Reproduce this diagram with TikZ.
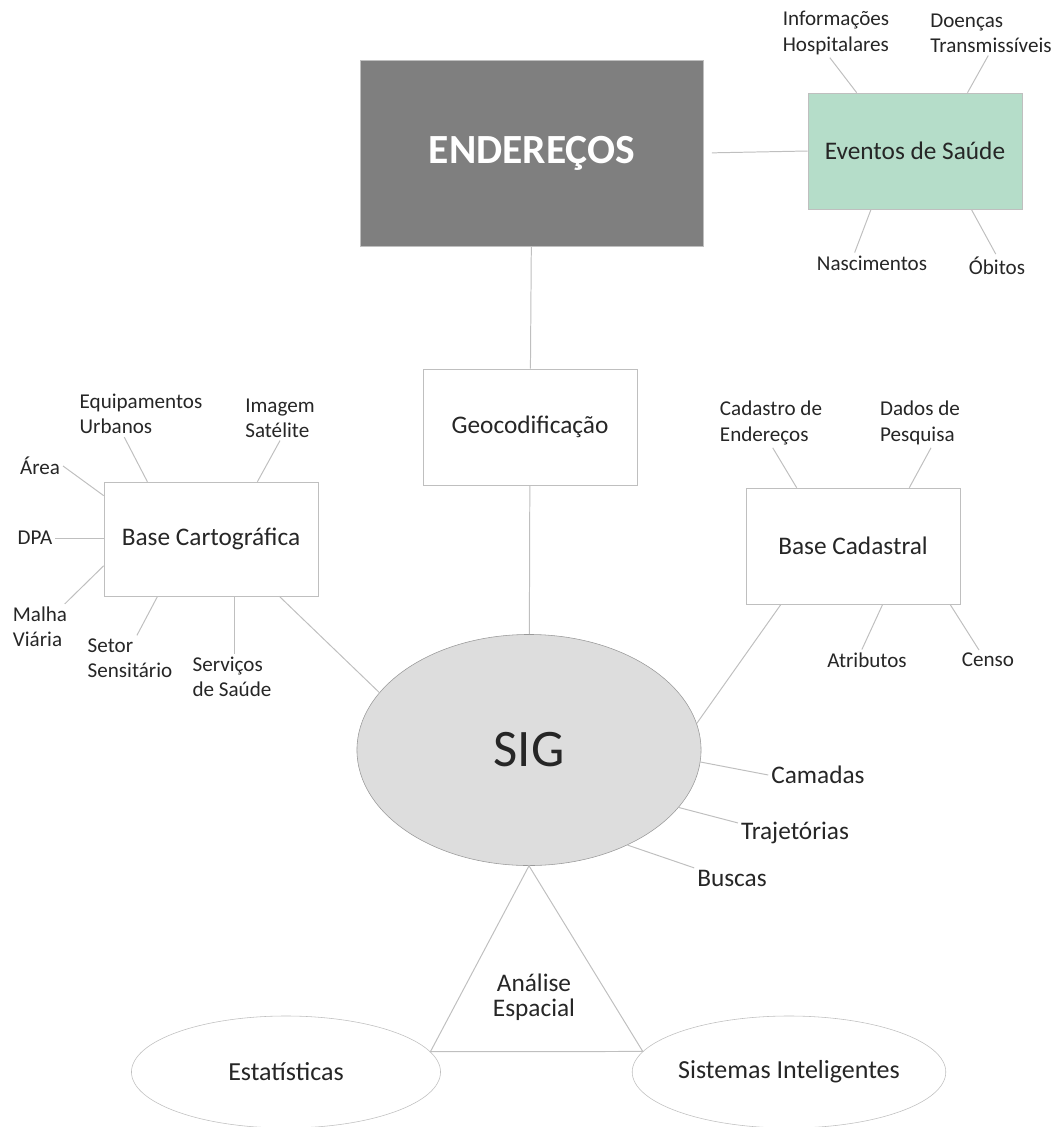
\documentclass[tikz,border=0pt]{standalone}
\usepackage{fontspec}
\setmainfont{Carlito}
\usepackage{xcolor}
\usepackage{tikz}
\usetikzlibrary{shapes,positioning,calc}
\definecolor{lineGray}{RGB}{191,191,191}
\definecolor{headGray}{RGB}{127,127,127}
\definecolor{healthGreen}{RGB}{181,221,201}
\definecolor{sigGray}{RGB}{221,221,221}
\definecolor{textGray}{RGB}{38,38,38}
\tikzset{
  mainBox/.style={
    rectangle,
    draw=lineGray,
    fill=white,
    text=textGray,
    minimum width=5.35cm,
    minimum height=2.9cm,
    align=center,
    font=\fontsize{18}{18}\selectfont
  },
  headBox/.style={
    mainBox,
    fill=headGray,
    text=white,
    minimum width=8.575cm,
    minimum height=4.65cm,
    font=\fontsize{29.5}{29.5}\selectfont\bfseries
  },
  eventBox/.style={
    mainBox,
    fill=healthGreen
  },
  sigEllipse/.style={
    ellipse,
    draw=lineGray!80!black,
    fill=sigGray,
    text=textGray,
    inner sep=0pt,
    minimum width=8.6cm,
    minimum height=5.775cm,
    font=\fontsize{37.5}{37.5}\selectfont
  },
  outerEllipse/.style={
    ellipse,
    draw=lineGray,
    fill=white,
    text=textGray,
    inner sep=0pt,
    minimum width=7.7cm,
    minimum height=2.8cm,
    font=\fontsize{18.5}{18.5}\selectfont
  },
  labelText/.style={
    text=textGray,
    align=left,
    inner sep=2pt,
    font=\fontsize{15}{18}\selectfont
  },
  sigLabel/.style={
    labelText,
    font=\fontsize{18}{18}\selectfont
  },
  linkLine/.style={
    draw=lineGray,
    line width=0.7pt
  }
}
\begin{document}
\begin{tikzpicture}[x=0.025cm, y=-0.025cm]
        \useasboundingbox (0,0) rectangle (1057,1127);

        % main boxes
        \node[headBox] (end) at (532,153) {ENDEREÇOS};
        \node[eventBox] (eventos) at (915,151) {Eventos de Saúde};
        \node[mainBox] (geo) at (530,427) {Geocodificação};
        \node[mainBox, minimum height=2.85cm] (cart) at (211,539) {Base Cartográfica};
        \node[mainBox] (cad) at (853,546) {Base Cadastral};
        \node[sigEllipse] (sig) at (529,750) {SIG};
        \node[outerEllipse, minimum width=7.725cm] (estat) at (286,1072) {Estatísticas};
        \node[outerEllipse] (sist) at (789,1072) {Sistemas Inteligentes};
        \node[sigLabel, align=center] (analise) at (534,997) {Análise\\Espacial};

        % labels
        \node[labelText] (info) at (836,33) {Informações\\Hospitalares};
        \node[labelText] (doencas) at (991,33) {Doenças\\Transmissíveis};
        \node[labelText] (nasc) at (872,263) {Nascimentos};
        \node[labelText] (obitos) at (997,266) {Óbitos};
        \node[labelText] (equip) at (141,414) {Equipamentos\\Urbanos};
        \node[labelText] (imagem) at (280,418) {Imagem\\Satélite};
        \node[labelText] (area) at (40,466) {Área};
        \node[labelText] (dpa) at (35,538) {DPA};
        \node[labelText] (malha) at (40,627) {Malha\\Viária};
        \node[labelText] (setor) at (130,658) {Setor\\Sensitário};
        \node[labelText] (servicos) at (232,677) {Serviços\\de Saúde};
        \node[labelText] (cadastro) at (771,423) {Cadastro de\\Endereços};
        \node[labelText] (dados) at (920,423) {Dados de\\Pesquisa};
        \node[labelText] (atrib) at (867,660) {Atributos};
        \node[labelText] (censo) at (988,660) {Censo};
        \node[sigLabel] (camadas) at (818,775) {Camadas};
        \node[sigLabel] (trajet) at (795,833) {Trajetórias};
        \node[sigLabel] (buscas) at (732,878) {Buscas};

        % connectors
        \draw[linkLine, shorten <=0.2cm] (end.east) -- (eventos.west);
        \draw[linkLine] (end) -- (geo);
        \draw[linkLine] (geo) -- (sig);
        \draw[linkLine] (eventos.135.5) -- (info.-104);
        \draw[linkLine] (eventos.48.7) -- (doencas.-97);
        \draw[linkLine] (eventos.233.4) -- (nasc.149);
        \draw[linkLine] (eventos.-46.5) -- (obitos.96);

        \draw[linkLine] (cart.138) -- (equip.-126);
        \draw[linkLine] (cart.51) -- (imagem.south);
        \draw[linkLine] (cart.158.6) -- (area.east);
        \draw[linkLine] (dpa.east) -- (dpa.east -| cart.west);
        \draw[linkLine] (cart.194.7) -- (malha.43);
        \draw[linkLine] (cart.227.6) -- (setor.73);
        \draw[linkLine] (servicos.83) -- (servicos.83 |- cart.south);
        \draw[linkLine] (cart.320.4) -- (sig.159.6);

        \draw[linkLine] (cad.134) -- (cadastro.-86);
        \draw[linkLine] (cad.46.5) -- (dados.-66);
        \draw[linkLine] (cad.-63.4) -- (atrib.116.6);
        \draw[linkLine] (cad.-31.7) -- (censo.132);
        \draw[linkLine] (cad.219.2) -- (sig.9.1);

        \draw[linkLine] (sig.-4.3) -- (camadas.west);
        \draw[linkLine] (sig.-21.6) -- (trajet.170);
        \draw[linkLine] (sig.-44.4) -- (buscas.165);

        \draw[linkLine] (sig.south) -- (estat.8) -- (sist.172) -- cycle;
    \end{tikzpicture}
\end{document}
